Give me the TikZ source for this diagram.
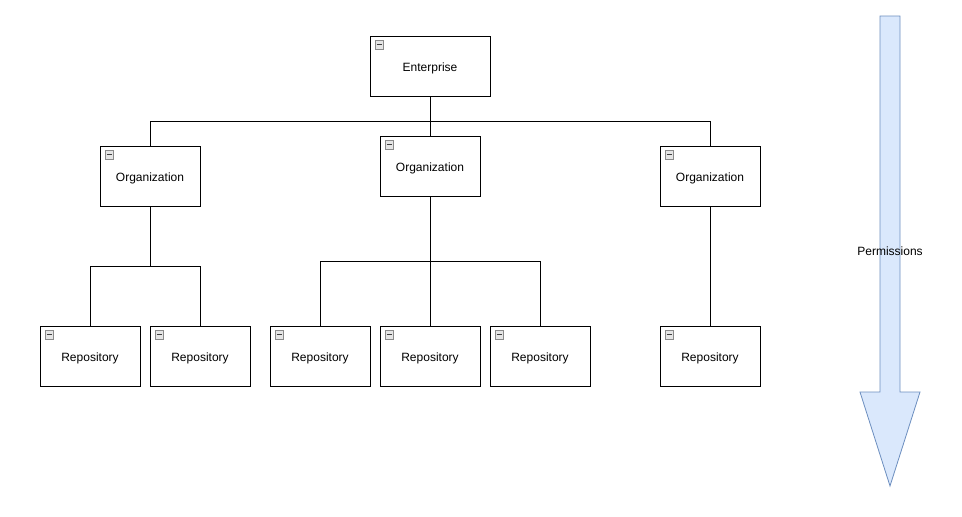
\documentclass[tikz,border=0pt]{standalone}
\usepackage{fontspec}
\setmainfont{Liberation Sans}
\usepackage{xcolor}
\usepackage{tikz}
\usetikzlibrary{positioning}
\definecolor{arrowfill}{HTML}{DAE8FC}
\definecolor{arrowline}{HTML}{6C8EBF}
\definecolor{iconline}{HTML}{8A8A8A}

\begin{document}
\begin{tikzpicture}[
    x=1pt, y=-1pt,
    node distance=10pt and 10pt,
    unit/.style={
        draw=black, line width=0.9pt, fill=white,
        rectangle, inner sep=2pt, outer sep=0pt, align=center,
        font=\fontsize{12}{14}\selectfont,
        text height=11pt, text depth=0pt,
        minimum width=100pt, minimum height=60pt,
        path picture={
            \draw[iconline, fill=gray!20, line width=0.7pt]
                ([xshift=5pt,yshift=-4.5pt]path picture bounding box.north west)
                rectangle ++(8.5pt,-8.5pt);
            \draw[black!75, line width=1pt]
                ([xshift=6.8pt,yshift=-8.75pt]path picture bounding box.north west)
                -- ++(4.9pt,0pt);
        },
    },
    link/.style={draw=black, line width=0.9pt},
]
\useasboundingbox (0,0) rectangle (962,517);

% Enterprise
\node[unit, minimum width=120pt] (ent) at (430,66) {Enterprise};

% Organizations
\node[unit] (orgA) at (150,176) {Organization};
\node[unit] (orgB) at (430,166) {Organization};
\node[unit] (orgC) at (710,176) {Organization};

% Repositories
\node[unit] (repoA) at (90,356) {Repository};
\node[unit, right=of repoA] (repoB) {Repository};
\node[unit] (repoC) at (320,356) {Repository};
\node[unit, right=of repoC] (repoD) {Repository};
\node[unit, right=of repoD] (repoE) {Repository};
\node[unit] (repoF) at (710,356) {Repository};

% Links
\draw[link] (ent.south) -- ++(0,25) -| (orgA.north);
\draw[link] (ent.south) -- ++(0,25) -| (orgC.north);
\draw[link] (ent.south) -- (orgB.north);

\draw[link] (orgA.south) -- ++(0,60) -| (repoA.north);
\draw[link] (orgA.south) -- ++(0,60) -| (repoB.north);

\draw[link] (orgB.south) -- ++(0,65) -| (repoC.north);
\draw[link] (orgB.south) -- ++(0,65) -| (repoE.north);
\draw[link] (orgB.south) -- (repoD.north);

\draw[link] (orgC.south) -- (repoF.north);

% Permissions arrow
\draw[draw=arrowline, fill=arrowfill, line width=0.8pt]
    (880,16) -- (900,16) -- (900,392) -- (920,392) -- (890,486)
    -- (860,392) -- (880,392) -- cycle;
\node[font=\fontsize{12}{14}\selectfont] (perm) at (890,251) {Permissions};

\end{tikzpicture}
\end{document}
